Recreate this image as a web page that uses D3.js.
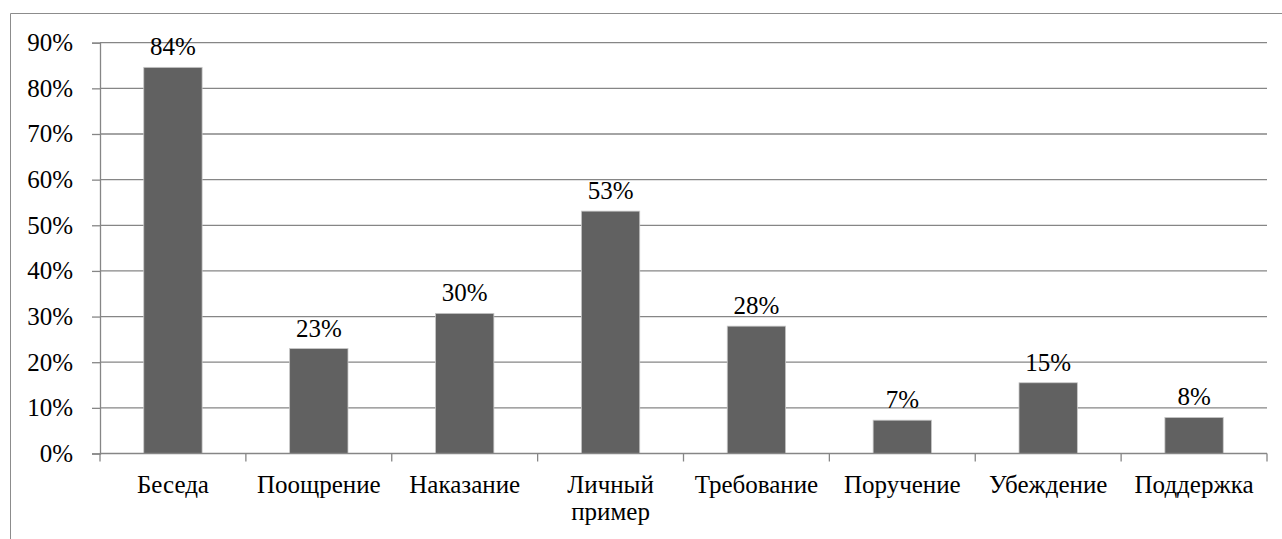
<!DOCTYPE html>
<html><head><meta charset="utf-8">
<script src="https://cdn.jsdelivr.net/npm/d3@7"></script>
<style>
html,body{margin:0;padding:0;background:#fff;}
</style></head>
<body><svg id="chart" width="1282" height="539"></svg>
<script>
const categories = ["Беседа", "Поощрение", "Наказание", "Личный пример", "Требование", "Поручение", "Убеждение", "Поддержка"];
const values = [84.6, 23.0, 30.7, 53.1, 27.9, 7.3, 15.5, 7.9];
const valueLabels = ["84%", "23%", "30%", "53%", "28%", "7%", "15%", "8%"];
const yTicks = [0, 10, 20, 30, 40, 50, 60, 70, 80, 90];

const FONT = "'Liberation Serif', 'Times New Roman', serif";
const svg = d3.select("#chart");
const pLeft = 100, pRight = 1267, pTop = 42.7, pBottom = 453.5;
const fs = 25;

// outer frame
svg.append("path").attr("d", "M10.5,539 V13.5 H1282").attr("fill", "none").attr("stroke", "#8c8c8c").attr("stroke-width", 1);

const x = d3.scaleBand().domain(categories).range([pLeft, pRight]).paddingInner(0.6).paddingOuter(0.3);
const y = d3.scaleLinear().domain([0, 90]).range([pBottom, pTop]);

// gridlines
svg.selectAll("line.grid").data(yTicks.filter(d => d > 0)).join("line").attr("class", "grid")
  .attr("x1", pLeft).attr("x2", pRight).attr("y1", d => y(d)).attr("y2", d => y(d))
  .attr("stroke", "#868686").attr("stroke-width", 1.3);

// y axis
const yAxis = d3.axisLeft(y).tickValues(yTicks).tickFormat(d => d + "%").tickSize(8).tickPadding(19);
const gy = svg.append("g").attr("transform", `translate(${pLeft},0)`).call(yAxis);
gy.attr("font-family", null).attr("font-size", null);
gy.select(".domain").attr("stroke", "#868686").attr("stroke-width", 1.3);
gy.selectAll(".tick line").attr("stroke", "#868686").attr("stroke-width", 1.3);
gy.selectAll(".tick text").attr("fill", "#000").style("font-family", FONT).style("font-size", fs + "px");

// bars
svg.selectAll("rect.bar").data(values).join("rect").attr("class", "bar")
  .attr("x", (d, i) => x(categories[i])).attr("width", x.bandwidth())
  .attr("y", d => y(d)).attr("height", d => pBottom - y(d))
  .attr("fill", "#616161").attr("stroke", "#c8c8c8").attr("stroke-width", 0.8);

// x axis
const step = (pRight - pLeft) / categories.length;
svg.append("line").attr("x1", pLeft).attr("x2", pRight).attr("y1", pBottom).attr("y2", pBottom).attr("stroke", "#868686").attr("stroke-width", 1.3);
svg.selectAll("line.tk").data(d3.range(categories.length + 1)).join("line").attr("class", "tk")
  .attr("x1", i => pLeft + i * step).attr("x2", i => pLeft + i * step)
  .attr("y1", pBottom).attr("y2", pBottom + 8).attr("stroke", "#868686").attr("stroke-width", 1.3);
svg.selectAll("text.cat").data(categories).join("text").attr("class", "cat")
  .attr("text-anchor", "middle").attr("fill", "#000")
  .style("font-family", FONT).style("font-size", fs + "px")
  .attr("x", d => x(d) + x.bandwidth() / 2).attr("y", 493)
  .each(function(d) {
    const words = d.split(" ");
    const t = d3.select(this);
    if (words.length > 1) {
      words.forEach((w, k) => t.append("tspan").attr("x", x(d) + x.bandwidth() / 2).attr("dy", k === 0 ? 0 : 27).text(w));
    } else t.text(d);
  });

// value labels
svg.selectAll("text.val").data(values).join("text").attr("class", "val")
  .attr("text-anchor", "middle").attr("fill", "#000")
  .style("font-family", FONT).style("font-size", fs + "px")
  .attr("x", (d, i) => x(categories[i]) + x.bandwidth() / 2)
  .attr("y", d => y(d) - 12)
  .text((d, i) => valueLabels[i]);
</script></body></html>
